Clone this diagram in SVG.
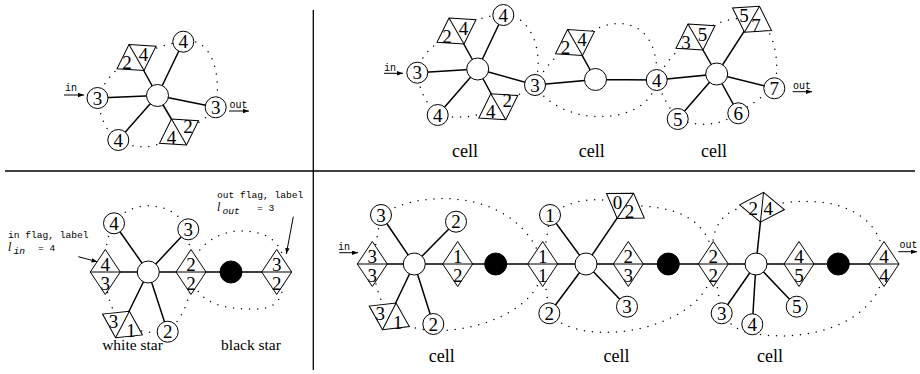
<svg xmlns="http://www.w3.org/2000/svg" xmlns:xlink="http://www.w3.org/1999/xlink" width="920" height="374" viewBox="0 0 920 374">
<style>
.e{stroke:#000;stroke-width:1.5;fill:none}
.d{stroke:#000;stroke-width:1.5;fill:none;stroke-dasharray:0 8;stroke-linecap:round}
.a{stroke:#000;stroke-width:1;fill:none}
.c{fill:#fff;stroke:#000;stroke-width:1}
.b{fill:#000;stroke:#000;stroke-width:1}
.f{fill:#fff;stroke:#000;stroke-width:1}
.n{font-family:"Liberation Serif",serif;font-size:19px;text-anchor:middle;fill:#000}
.t{font-family:"Liberation Serif",serif;font-size:18px;text-anchor:middle;fill:#000}
.w{font-family:"Liberation Serif",serif;font-size:15.5px;text-anchor:middle;fill:#000}
.s{font-family:"Liberation Mono",monospace;font-size:10px;fill:#000}
.m{font-family:"Liberation Mono",monospace;font-size:9.6px;fill:#000}
.fr{stroke:#000;stroke-width:1.3}
</style>
<defs>
<g id="flag"><polygon points="15,0 0,22.5 -15,0 0,-22.5"/><line x1="-15" y1="0" x2="15" y2="0"/></g>
<marker id="ah" markerUnits="userSpaceOnUse" markerWidth="7" markerHeight="5" refX="6" refY="2.2" orient="auto"><path d="M0,0 L6,2.2 L0,4.4 Z" fill="#000"/></marker>
</defs>
<rect width="920" height="374" fill="#fff"/>
<g id="frame">
<line class="fr" x1="5" y1="171" x2="915" y2="171"/>
<line class="fr" x1="313.3" y1="10" x2="313.3" y2="370"/>
</g>
<g id="connectors">
<path class="e" d="M157.5,95.5 L97.5,98 M157.5,95.5 L183.3,41.7 M157.5,95.5 L215.7,107.3 M157.5,95.5 L118.3,140 M157.5,95.5 L136.5,57.5 M157.5,95.5 L179,132"/>
<path class="d" d="M97.5,98 Q110,68 136.5,57.5 Q160,44 183.3,41.7 C210,36 222,70 215.7,107.3 Q205,122 179,132 C160,150 135,150 118.3,140 C104,130 100,115 97.5,98 Z"/>
<line class="a" x1="64" y1="95" x2="84" y2="95" marker-end="url(#ah)"/>
<line class="a" x1="229" y1="111" x2="249" y2="111" marker-end="url(#ah)"/>
<path class="e" d="M477.7,69 L417.3,72.7 M477.7,69 L503.3,15 M477.7,69 L437.7,115 M477.7,69 L456.5,31 M477.7,69 L498.3,106.8 M477.7,69 L535,85 L595.5,79.5 L575,42.6 M595.5,79.5 L656.7,80 L716.7,74 L695.5,37 M716.7,74 L752,19.2 M716.7,74 L774.3,88.3 M716.7,74 L738.3,113.3 M716.7,74 L677.7,119"/>
<path class="d" d="M417.3,72.7 Q420,50 456.5,31 Q480,15 503.3,15 C530,14 545,50 535,85 L498.3,106.8 Q468,122 437.7,115 Q420,98 417.3,72.7 Z"/>
<path class="d" d="M535,85 Q552,55 575,42.6 C605,15 660,10 656.7,80 C650,128 560,128 535,85 Z"/>
<path class="d" d="M656.7,80 Q668,55 695.5,37 Q722,15 752,19.2 C770,20 782,55 774.3,88.3 L738.3,113.3 Q710,132 677.7,119 Q664,102 656.7,80 Z"/>
<line class="a" x1="384" y1="73.3" x2="403" y2="73.3" marker-end="url(#ah)"/>
<line class="a" x1="792.7" y1="91.7" x2="812" y2="91.7" marker-end="url(#ah)"/>
<path class="e" d="M90.3,272 L291.7,272 M148.3,272 L114,223.3 M148.3,272 L188.3,229.3 M148.3,272 L122.5,324.5 M148.3,272 L167.7,331.7"/>
<path class="d" d="M114,223.3 C128,200 172,198 188.3,229.3 L191,272 Q192,310 167.7,331.7 Q145,335 122.5,324.5 Q106,305 105.3,272 Q104,240 114,223.3 Z"/>
<path class="d" d="M191,272 C192,250 215,231 240,231 C265,231 284,240 284,268 C285,298 278,309 255,309 C225,309 195,305 191,272 Z"/>
<line class="a" x1="78.3" y1="256.7" x2="97.5" y2="261.8" marker-end="url(#ah)"/>
<line class="a" x1="293.3" y1="216.7" x2="286.3" y2="254" marker-end="url(#ah)"/>
<path class="e" d="M357.3,264 L899,264 M414.3,264 L381,215 M414.3,264 L456,221.7 M414.3,264 L389.3,316.3 M414.3,264 L433.3,324 M586,264 L550,215 M586,264 L625.4,205.8 M586,264 L549.3,313.3 M586,264 L627,306.7 M756,264 L762,207.2 M756,264 L721.7,313.3 M756,264 L752.3,324.3 M756,264 L796.7,306.7"/>
<path class="d" d="M381,215 C420,188 520,188 542.7,264 C545,320 430,350 389.3,316.3 Q376,295 372.3,264 L381,215 Z"/>
<path class="d" d="M550,215 Q585,190 625.4,205.8 C670,205 712,215 713.3,264 C712,330 580,352 549.3,313.3 L542.7,264 L550,215 Z"/>
<path class="d" d="M713.3,264 C708,225 725,203 762,207.2 C820,192 884,205 884,264 C885,320 810,345 752,333 Q735,332 721.7,313.3 L713.3,264 Z"/>
<line class="a" x1="339.3" y1="252.7" x2="358" y2="252.7" marker-end="url(#ah)"/>
<line class="a" x1="898.3" y1="251.7" x2="917" y2="251.7" marker-end="url(#ah)"/>
</g>
<g id="tl-flag1"><use xlink:href="#flag" class="f" transform="translate(136.5,57.5) rotate(240)"/><text class="n" x="127" y="69">2</text><text class="n" x="143.5" y="61">4</text></g>
<g id="tl-flag2"><use xlink:href="#flag" class="f" transform="translate(179,132) rotate(60)"/><text class="n" x="171.5" y="143.5">4</text><text class="n" x="188" y="132.5">2</text></g>
<g id="tl-center"><circle class="c" cx="157.5" cy="95.5" r="11"/></g>
<g id="tl-in"><circle class="c" cx="97.5" cy="98" r="10.5"/><text class="n" x="97.5" y="104.5">3</text></g>
<g id="tl-top"><circle class="c" cx="183.3" cy="41.7" r="10.5"/><text class="n" x="183.3" y="48.2">4</text></g>
<g id="tl-out"><circle class="c" cx="215.7" cy="107.3" r="10.5"/><text class="n" x="215.7" y="113.8">3</text></g>
<g id="tl-bot"><circle class="c" cx="118.3" cy="140" r="10.5"/><text class="n" x="118.3" y="146.5">4</text></g>
<g id="tl-labels"><text class="s" x="71" y="91" text-anchor="middle">in</text><text class="s" x="238.5" y="107.5" text-anchor="middle">out</text></g>
<g id="tr-flag1"><use xlink:href="#flag" class="f" transform="translate(456.5,31) rotate(240)"/><text class="n" x="447" y="42.5">2</text><text class="n" x="463.5" y="34.5">4</text></g>
<g id="tr-flag2"><use xlink:href="#flag" class="f" transform="translate(498.3,106.8) rotate(60)"/><text class="n" x="490.8" y="118.3">4</text><text class="n" x="507.3" y="107.3">2</text></g>
<g id="tr-flag3"><use xlink:href="#flag" class="f" transform="translate(575,42.6) rotate(240)"/><text class="n" x="565.5" y="54.1">2</text><text class="n" x="582" y="46.1">4</text></g>
<g id="tr-flag4"><use xlink:href="#flag" class="f" transform="translate(695.5,37) rotate(240)"/><text class="n" x="686" y="48.5">3</text><text class="n" x="702.5" y="40.5">5</text></g>
<g id="tr-flag5"><use xlink:href="#flag" class="f" transform="translate(752,19.2) rotate(300)"/><text class="n" x="744" y="22.2">5</text><text class="n" x="756" y="31.7">7</text></g>
<g id="tr-c1"><circle class="c" cx="477.7" cy="69" r="11"/></g>
<g id="tr-c2"><circle class="c" cx="595.5" cy="79.5" r="11"/></g>
<g id="tr-c3"><circle class="c" cx="716.7" cy="74" r="11"/></g>
<g id="tr-in"><circle class="c" cx="417.3" cy="72.7" r="10.5"/><text class="n" x="417.3" y="79.2">3</text></g>
<g id="tr-top"><circle class="c" cx="503.3" cy="15" r="10.5"/><text class="n" x="503.3" y="21.5">4</text></g>
<g id="tr-bot"><circle class="c" cx="437.7" cy="115" r="10.5"/><text class="n" x="437.7" y="121.5">4</text></g>
<g id="tr-j1"><circle class="c" cx="535" cy="85" r="10.5"/><text class="n" x="535" y="91.5">3</text></g>
<g id="tr-j2"><circle class="c" cx="656.7" cy="80" r="10.5"/><text class="n" x="656.7" y="86.5">4</text></g>
<g id="tr-out"><circle class="c" cx="774.3" cy="88.3" r="10.5"/><text class="n" x="774.3" y="94.8">7</text></g>
<g id="tr-5"><circle class="c" cx="677.7" cy="119" r="10.5"/><text class="n" x="677.7" y="125.5">5</text></g>
<g id="tr-6"><circle class="c" cx="738.3" cy="113.3" r="10.5"/><text class="n" x="738.3" y="119.8">6</text></g>
<g id="tr-labels"><text class="s" x="390" y="70.5" text-anchor="middle">in</text><text class="s" x="802" y="88.5" text-anchor="middle">out</text>
<text class="t" x="465" y="156.5">cell</text><text class="t" x="591.7" y="156.5">cell</text><text class="t" x="714" y="157">cell</text></g>
<g id="bl-inflag"><use xlink:href="#flag" class="f" transform="translate(105.3,272)"/><text class="n" x="105.3" y="271">4</text><text class="n" x="105.3" y="289.5">3</text></g>
<g id="bl-flag22"><use xlink:href="#flag" class="f" transform="translate(191,272)"/><text class="n" x="191" y="271">2</text><text class="n" x="191" y="289.5">2</text></g>
<g id="bl-outflag"><use xlink:href="#flag" class="f" transform="translate(276.7,272)"/><text class="n" x="276.7" y="271">3</text><text class="n" x="276.7" y="289.5">2</text></g>
<g id="bl-flag31"><use xlink:href="#flag" class="f" transform="translate(122.5,324.5) rotate(117.5)"/><text class="n" x="113.5" y="328">3</text><text class="n" x="131" y="337">1</text></g>
<g id="bl-white"><circle class="c" cx="148.3" cy="272" r="11"/></g>
<g id="bl-black"><circle class="b" cx="231" cy="272" r="11"/></g>
<g id="bl-4"><circle class="c" cx="114" cy="223.3" r="10.5"/><text class="n" x="114" y="229.8">4</text></g>
<g id="bl-3"><circle class="c" cx="188.3" cy="229.3" r="10.5"/><text class="n" x="188.3" y="235.8">3</text></g>
<g id="bl-2"><circle class="c" cx="167.7" cy="331.7" r="10.5"/><text class="n" x="167.7" y="338.2">2</text></g>
<g id="bl-labels">
<text class="m" x="8" y="238">in flag, label</text>
<text class="m" x="8" y="251"><tspan font-family="Liberation Serif" font-style="italic" font-size="12">l</tspan><tspan x="13.5" dy="3" font-style="italic">in</tspan><tspan x="38" dy="-3">= 4</tspan></text>
<text class="m" x="217" y="198">out flag, label</text>
<text class="m" x="217" y="211"><tspan font-family="Liberation Serif" font-style="italic" font-size="12">l</tspan><tspan x="222.5" dy="3" font-style="italic">out</tspan><tspan x="257" dy="-3">= 3</tspan></text>
<text class="w" x="132.5" y="350">white star</text>
<text class="w" x="251" y="350">black star</text>
</g>
<g id="br-f33"><use xlink:href="#flag" class="f" transform="translate(372.3,264)"/><text class="n" x="372.3" y="263">3</text><text class="n" x="372.3" y="281.5">3</text></g>
<g id="br-f12"><use xlink:href="#flag" class="f" transform="translate(457.7,264)"/><text class="n" x="457.7" y="263">1</text><text class="n" x="457.7" y="281.5">2</text></g>
<g id="br-f11"><use xlink:href="#flag" class="f" transform="translate(542.7,264)"/><text class="n" x="542.7" y="263">1</text><text class="n" x="542.7" y="281.5">1</text></g>
<g id="br-f31"><use xlink:href="#flag" class="f" transform="translate(389.3,316.3) rotate(117)"/><text class="n" x="380.3" y="319.8">3</text><text class="n" x="397.8" y="328.8">1</text></g>
<g id="br-f02"><use xlink:href="#flag" class="f" transform="translate(625.4,205.8) rotate(303)"/><text class="n" x="617.4" y="208.8">0</text><text class="n" x="629.4" y="218.3">2</text></g>
<g id="br-f23"><use xlink:href="#flag" class="f" transform="translate(628.3,264)"/><text class="n" x="628.3" y="263">2</text><text class="n" x="628.3" y="281.5">3</text></g>
<g id="br-f22"><use xlink:href="#flag" class="f" transform="translate(713.3,264)"/><text class="n" x="713.3" y="263">2</text><text class="n" x="713.3" y="281.5">2</text></g>
<g id="br-f24"><use xlink:href="#flag" class="f" transform="translate(762,207.2) rotate(276)"/><text class="n" x="753.3" y="214.8">2</text><text class="n" x="768.3" y="214.8">4</text></g>
<g id="br-f45"><use xlink:href="#flag" class="f" transform="translate(799,264)"/><text class="n" x="799" y="263">4</text><text class="n" x="799" y="281.5">5</text></g>
<g id="br-f44"><use xlink:href="#flag" class="f" transform="translate(884,264)"/><text class="n" x="884" y="263">4</text><text class="n" x="884" y="281.5">4</text></g>
<g id="br-w1"><circle class="c" cx="414.3" cy="264" r="11"/></g>
<g id="br-b1"><circle class="b" cx="495.7" cy="264" r="11"/></g>
<g id="br-w2"><circle class="c" cx="586" cy="264" r="11"/></g>
<g id="br-b2"><circle class="b" cx="668.3" cy="264" r="11"/></g>
<g id="br-w3"><circle class="c" cx="756" cy="264" r="11"/></g>
<g id="br-b3"><circle class="b" cx="838.3" cy="264" r="11"/></g>
<g id="br-n1"><circle class="c" cx="381" cy="215" r="10.5"/><text class="n" x="381" y="221.5">3</text></g>
<g id="br-n2"><circle class="c" cx="456" cy="221.7" r="10.5"/><text class="n" x="456" y="228.2">2</text></g>
<g id="br-n3"><circle class="c" cx="433.3" cy="324" r="10.5"/><text class="n" x="433.3" y="330.5">2</text></g>
<g id="br-n4"><circle class="c" cx="550" cy="215" r="10.5"/><text class="n" x="550" y="221.5">1</text></g>
<g id="br-n5"><circle class="c" cx="549.3" cy="313.3" r="10.5"/><text class="n" x="549.3" y="319.8">2</text></g>
<g id="br-n6"><circle class="c" cx="627" cy="306.7" r="10.5"/><text class="n" x="627" y="313.2">3</text></g>
<g id="br-n7"><circle class="c" cx="721.7" cy="313.3" r="10.5"/><text class="n" x="721.7" y="319.8">3</text></g>
<g id="br-n8"><circle class="c" cx="752.3" cy="324.3" r="10.5"/><text class="n" x="752.3" y="330.8">4</text></g>
<g id="br-n9"><circle class="c" cx="796.7" cy="306.7" r="10.5"/><text class="n" x="796.7" y="313.2">5</text></g>
<g id="br-labels"><text class="s" x="344" y="249.5" text-anchor="middle">in</text><text class="s" x="908.5" y="247.5" text-anchor="middle">out</text>
<text class="t" x="441.7" y="361.5">cell</text><text class="t" x="616.5" y="361.5">cell</text><text class="t" x="770" y="361.5">cell</text></g>
</svg>
